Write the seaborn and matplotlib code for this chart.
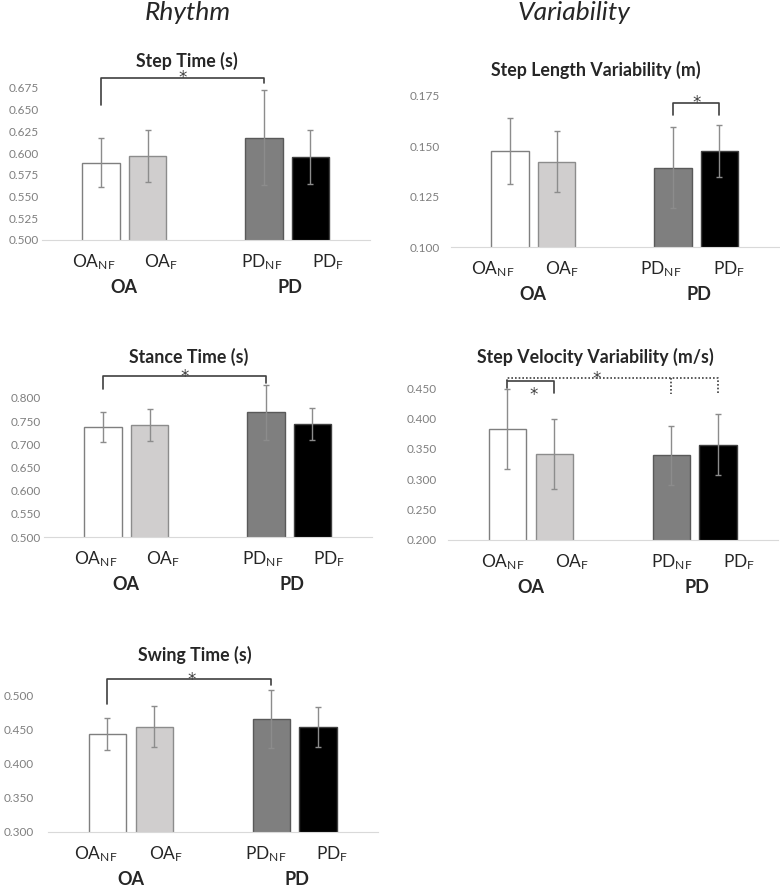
import matplotlib
matplotlib.use('Agg')
import matplotlib.pyplot as plt
import seaborn as sns
import pandas as pd

# data (mean, sd)
conds = ['OA_NF', 'OA_F', 'PD_NF', 'PD_F']
tick_labels = [r'OA$_{\mathrm{NF}}$', r'OA$_{\mathrm{F}}$', r'PD$_{\mathrm{NF}}$', r'PD$_{\mathrm{F}}$']
groups = ['OA', 'PD']

step_time = [0.589, 0.597, 0.618, 0.596]
step_time_sd = [0.028, 0.030, 0.055, 0.031]
stance_time = [0.737, 0.742, 0.769, 0.744]
stance_time_sd = [0.033, 0.034, 0.059, 0.035]
swing_time = [0.443, 0.454, 0.465, 0.453]
swing_time_sd = [0.023, 0.030, 0.042, 0.029]
step_len_var = [0.1477, 0.1424, 0.1394, 0.1477]
step_len_var_sd = [0.0165, 0.015, 0.020, 0.013]
step_vel_var = [0.3825, 0.3415, 0.339, 0.357]
step_vel_var_sd = [0.066, 0.058, 0.049, 0.050]

colors = ['#ffffff', '#d0cece', '#7f7f7f', '#000000']
edges = ['#7f7f7f', '#8c8c8c', '#595959', '#404040']
xpos = [0, 1, 3.5, 4.5]

sns.set_style('white')
plt.rcParams['font.family'] = ['Lato', 'DejaVu Sans']
plt.rcParams['mathtext.fontset'] = 'custom'
plt.rcParams['mathtext.rm'] = 'Lato'
plt.rcParams['mathtext.it'] = 'Lato:italic'
plt.rcParams['mathtext.bf'] = 'Lato:bold'

W, H = 780, 886
fig = plt.figure(figsize=(W / 100, H / 100), dpi=100)
LINE = '#404040'


def px_axes(left, top, width, bottom):
    return fig.add_axes([left / W, 1 - bottom / H, width / W, (bottom - top) / H])


def panel(ax, means, sds, ticks, title, title_xy, ypad, lab):
    df = pd.DataFrame({'pos': xpos, 'val': means, 'cond': conds})
    sns.barplot(data=df, x='pos', y='val', hue='cond', hue_order=conds,
                palette=colors, native_scale=True, width=0.8, legend=False,
                linewidth=1, ax=ax)
    for p, ec in zip(ax.patches, edges):
        p.set_edgecolor(ec)
    ax.errorbar(xpos, means, yerr=sds, fmt='none', ecolor='#8c8c8c',
                elinewidth=1, capsize=2.5, capthick=1, clip_on=False, zorder=5)
    ax.set_xlim(-1.27, 5.78)
    ax.set_ylim(ticks[0], ticks[-1])
    ax.set_yticks(ticks)
    ax.set_yticklabels(['%.3f' % t for t in ticks], fontsize=8.5, color='#7f7f7f')
    # category labels sit a little off the bar centres, as in the original
    ax.set_xticks(lab)
    ax.set_xticklabels(tick_labels, fontsize=12.5)
    ax.tick_params(axis='x', length=0, pad=9)
    ax.tick_params(axis='y', length=0, pad=ypad)
    ax.set_xlabel('')
    ax.set_ylabel('')
    for s in ['left', 'top', 'right']:
        ax.spines[s].set_visible(False)
    ax.spines['bottom'].set_color('#d9d9d9')
    for g, c in zip(groups, [0.5, 4.05]):
        ax.annotate(g, xy=(c, 0), xycoords=('data', 'axes fraction'),
                    xytext=(0, -34), textcoords='offset points',
                    ha='center', va='center', fontsize=13, fontweight='bold')
    fig.text(title_xy[0] / W, 1 - title_xy[1] / H, title, ha='center', va='center',
             fontsize=12.8, fontweight='bold')


def star(ax, x, y, dy_px):
    # dy_px: where the asterisk ink centre sits relative to the line (+ = up)
    fs = 12
    off = dy_px * 0.72 - 0.6 * fs
    ax.annotate('*', xy=(x, y), xytext=(0, off), textcoords='offset points',
                ha='center', va='baseline', fontsize=fs, family='DejaVu Sans',
                color=LINE, annotation_clip=False)


def bracket(ax, x0, x1, y, y0, y1, ls='-'):
    kw = dict(color=LINE, lw=1.2, ls=ls, clip_on=False, zorder=6)
    ax.plot([x0, x0, x1, x1], [y0, y, y, y1], **kw)


DOT = (0, (1, 1.2))

# Step time
ax1 = px_axes(42, 88, 328, 240)
panel(ax1, step_time, step_time_sd, [0.500, 0.525, 0.550, 0.575, 0.600, 0.625, 0.650, 0.675],
      'Step Time (s)', (187, 61), 2, [-0.16, 1.3, 3.45, 4.87])
bracket(ax1, 0, 3.5, 0.687, 0.655, 0.681)
star(ax1, 1.75, 0.687, 4.5)

# Step length variability
ax2 = px_axes(451, 96, 328, 247)
panel(ax2, step_len_var, step_len_var_sd, [0.100, 0.125, 0.150, 0.175],
      'Step Length Variability (m)', (596, 70), 8, [-0.37, 1.12, 3.23, 4.7])
bracket(ax2, 3.5, 4.5, 0.1713, 0.1655, 0.1655)
star(ax2, 4.0, 0.1713, 5)

# Stance time
ax3 = px_axes(44, 398, 328, 537)
panel(ax3, stance_time, stance_time_sd, [0.500, 0.550, 0.600, 0.650, 0.700, 0.750, 0.800],
      'Stance Time (s)', (189, 357), 2, [-0.16, 1.29, 3.43, 4.85])
bracket(ax3, 0, 3.5, 0.847, 0.820, 0.833)
star(ax3, 1.75, 0.847, 4)

# Step velocity variability
ax4 = px_axes(448, 388, 330, 540)
panel(ax4, step_vel_var, step_vel_var_sd, [0.200, 0.250, 0.300, 0.350, 0.400, 0.450],
      'Step Velocity Variability (m/s)', (595, 357), 8, [-0.1, 1.38, 3.5, 4.95])
bracket(ax4, 0, 1, 0.4607, 0.450, 0.441)
star(ax4, 0.57, 0.4607, -9)
bracket(ax4, 0, 4.5, 0.4667, 0.4607, 0.4405, ls=DOT)
ax4.plot([3.5, 3.5], [0.4667, 0.4405], color=LINE, lw=1.2, ls=DOT, clip_on=False)
star(ax4, 1.9, 0.4667, 3.5)

# Swing time
ax5 = px_axes(48, 695, 330, 832)
panel(ax5, swing_time, swing_time_sd, [0.300, 0.350, 0.400, 0.450, 0.500],
      'Swing Time (s)', (195, 655), 10, [-0.25, 1.26, 3.38, 4.81])
bracket(ax5, 0, 3.5, 0.5227, 0.4867, 0.514)
star(ax5, 1.8, 0.5227, 4.3)

fig.text(188 / W, 1 - 13 / H, 'Rhythm', ha='center', va='center', fontsize=19,
         style='italic', color='#262626')
fig.text(574 / W, 1 - 13 / H, 'Variability', ha='center', va='center', fontsize=19,
         style='italic', color='#262626')

fig.savefig('out.png', dpi=100)
